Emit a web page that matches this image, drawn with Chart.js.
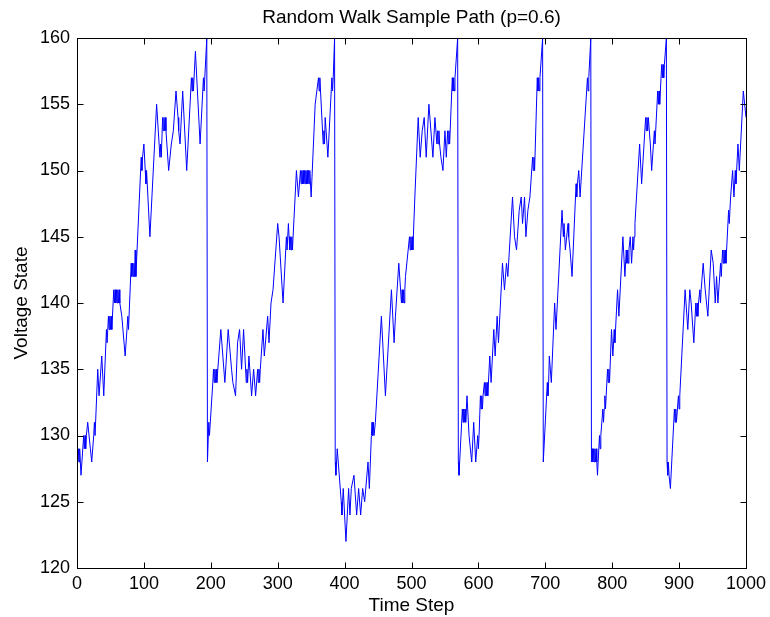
<!DOCTYPE html>
<html>
<head>
<meta charset="utf-8">
<script src="https://cdn.jsdelivr.net/npm/chart.js@4.4.0/dist/chart.umd.min.js"></script>
<style>
  html, body { margin: 0; padding: 0; background: #fff; }
</style>
</head>
<body>
<canvas id="walk" width="770" height="617"></canvas>
<script>
/* Random walk sample path */
const steps = [
  0,1,2,3,4,6,10,11,12,13,14,16,20,22,25,26,27,31,33,37,40,44,45,47,48,49,50,51,52,55,56,57,58,59,60,61,62,63,64,67,72,76,77,81,82,83,84,85,86,87,88,96,97,98,100,102,103,104,109,119,124,125,126,128,129,130,131,132,133,137,141,144,148,151,152,154,158,164,171,172,173,174,177,184,189,190,194,
  195,197,198,203,204,205,206,207,208,209,212,215,221,226,231,233,237,240,243,246,249,253,254,255,257,261,264,267,270,271,272,273,274,278,280,285,287,290,293,300,302,308,313,314,316,317,318,319,320,321,322,328,331,334,335,336,337,338,339,340,341,342,343,344,345,346,347,348,350,356,361,362,363,364,368,369,370,371,375,381,382,383,385,
  386,387,389,395,396,397,398,402,406,408,410,414,418,421,424,427,430,435,437,440,441,442,443,444,446,455,461,470,474,476,481,485,486,487,488,489,490,491,497,498,499,500,501,502,505,510,513,516,519,522,526,532,535,538,539,540,541,542,544,547,550,552,554,555,556,557,561,562,563,564,565,569,
  570,571,576,577,578,579,580,581,582,583,586,590,593,596,599,600,601,603,604,605,606,607,609,610,611,612,613,614,617,619,623,625,628,630,636,639,642,644,651,654,657,661,664,666,669,671,674,677,681,682,683,684,688,689,690,691,692,696,
  697,703,704,705,706,709,714,716,725,727,728,730,734,735,737,740,746,747,748,750,752,763,764,765,768,769,770,771,772,773,774,775,776,777,778,781,782,783,786,787,788,789,790,791,793,794,795,796,799,801,803,804,805,808,810,816,819,821,822,823,824,825,827,829,831,832,833,834,841,844,850,851,852,853,854,857,859,863,864,868,869,870,871,874,875,876,877,878,881,
  882,883,884,885,887,893,894,895,896,899,900,901,909,913,916,918,922,925,926,927,928,929,931,932,933,936,939,943,948,951,954,956,958,962,963,965,966,967,968,969,970,974,975,977,980,982,984,985,988,990,996,998,1000
];
const voltage = [
  129,128,129,128,129,127,130,129,130,129,130,131,129,128,130,131,130,135,133,136,133,138,137,139,138,139,138,139,138,141,140,141,140,141,140,141,140,141,140,139,136,139,138,143,142,143,142,143,142,144,142,151,150,151,152,150,149,150,145,155,151,152,151,154,153,154,153,154,153,150,152,153,156,154,153,152,156,150,157,156,157,156,159,152,157,156,160,
  128,131,130,134,135,134,135,134,135,134,136,138,134,138,135,134,133,137,138,135,138,134,135,134,136,133,135,133,135,134,135,134,135,138,136,139,137,140,141,146,145,140,145,144,146,145,144,145,144,145,144,150,148,150,149,150,149,150,149,150,149,150,149,150,149,150,149,150,148,155,157,156,157,156,152,153,152,154,151,157,156,157,160,
  128,127,129,125,124,125,126,122,126,124,126,127,124,126,124,126,125,128,126,130,131,130,131,130,131,139,133,141,137,139,143,140,141,140,141,140,141,142,145,144,145,144,145,144,148,154,151,153,154,151,155,151,154,152,153,152,153,152,151,150,153,151,153,152,153,152,157,156,157,156,157,160,
  128,127,132,131,132,131,132,131,132,133,130,128,131,128,130,129,130,133,132,133,132,133,134,133,134,133,134,133,136,134,138,136,139,137,143,141,143,142,148,145,144,147,148,146,148,145,147,148,151,150,151,150,157,156,157,156,157,160,
  128,134,133,134,136,134,140,138,147,145,146,144,146,145,144,142,149,148,149,150,148,157,156,157,160,128,129,128,129,128,129,128,129,128,127,130,129,130,132,131,132,133,132,133,135,134,135,134,138,136,138,137,138,141,139,145,142,144,143,144,143,144,145,143,145,144,145,146,152,149,154,153,154,153,154,152,150,153,152,156,155,156,155,158,157,158,157,158,160,
  128,127,128,127,126,132,131,132,131,133,132,133,141,138,141,140,137,140,139,140,139,140,141,140,141,143,141,139,144,143,140,142,140,143,142,144,143,144,143,144,143,147,146,148,150,148,150,149,152,150,156,155,154
];
const xTicks = [0, 100, 200, 300, 400, 500, 600, 700, 800, 900, 1000];
const yTicks = [120, 125, 130, 135, 140, 145, 150, 155, 160];
const titleText = 'Random Walk Sample Path (p=0.6)';

const FONT = "'Liberation Sans', Arial, Helvetica, sans-serif";

// MATLAB-style box with inward ticks on all four sides, title centred over the axes
const frameTicks = {
  id: 'frameTicks',
  afterDraw(chart) {
    const { ctx, chartArea: a, scales: { x, y } } = chart;
    const L = Math.round(a.left) + 0.5, R = Math.round(a.right) + 0.5;
    const T = Math.round(a.top) + 0.5, B = Math.round(a.bottom) + 0.5;
    ctx.save();
    ctx.strokeStyle = '#000';
    ctx.lineWidth = 1;
    ctx.beginPath();
    xTicks.forEach((v) => {
      const px = Math.round(x.getPixelForValue(v)) + 0.5;
      ctx.moveTo(px, B); ctx.lineTo(px, B - 6);
      ctx.moveTo(px, T); ctx.lineTo(px, T + 6);
    });
    yTicks.forEach((v) => {
      const py = Math.round(y.getPixelForValue(v)) + 0.5;
      ctx.moveTo(L, py); ctx.lineTo(L + 6, py);
      ctx.moveTo(R, py); ctx.lineTo(R - 6, py);
    });
    ctx.stroke();
    ctx.strokeRect(L, T, R - L, B - T);

    ctx.fillStyle = '#000';
    ctx.font = `19px ${FONT}`;
    ctx.textAlign = 'center';
    ctx.textBaseline = 'middle';
    ctx.fillText(titleText, (a.left + a.right) / 2, 17.5);
    ctx.restore();
  },
};

new Chart(document.getElementById('walk'), {
  type: 'line',
  data: {
    datasets: [{
      data: steps.map((s, i) => ({ x: s, y: voltage[i] })),
      borderColor: '#0000ff',
      borderWidth: 1,
      pointRadius: 0,
      tension: 0,
      fill: false,
    }],
  },
  options: {
    responsive: false,
    animation: false,
    devicePixelRatio: 1,
    layout: { padding: { top: 38, right: 24 } },
    plugins: {
      legend: { display: false },
      tooltip: { enabled: false },
      title: { display: false },
    },
    scales: {
      x: {
        type: 'linear', min: 0, max: 1000,
        afterBuildTicks: (s) => { s.ticks = xTicks.map((v) => ({ value: v })); },
        afterFit: (s) => { s.height = 49; s.paddingLeft = 0; s.paddingRight = 0; },
        grid: { display: false, tickLength: 0 },
        border: { display: false },
        ticks: { color: '#000', font: { family: FONT, size: 18 }, padding: 5, maxRotation: 0, autoSkip: false, callback: (v) => String(v) },
        title: { display: true, text: 'Time Step', color: '#000', font: { family: FONT, size: 19 }, padding: 0 },
      },
      y: {
        min: 120, max: 160,
        afterBuildTicks: (s) => { s.ticks = yTicks.map((v) => ({ value: v })); },
        afterFit: (s) => { s.width = 77; s.paddingTop = 0; s.paddingBottom = 0; },
        grid: { display: false, tickLength: 0 },
        border: { display: false },
        ticks: { color: '#000', font: { family: FONT, size: 18 }, padding: 7, autoSkip: false, callback: (v) => String(v) },
        title: { display: true, text: 'Voltage State', color: '#000', font: { family: FONT, size: 19 }, padding: { top: 10, bottom: 10 } },
      },
    },
  },
  plugins: [frameTicks],
});
</script>
</body>
</html>
